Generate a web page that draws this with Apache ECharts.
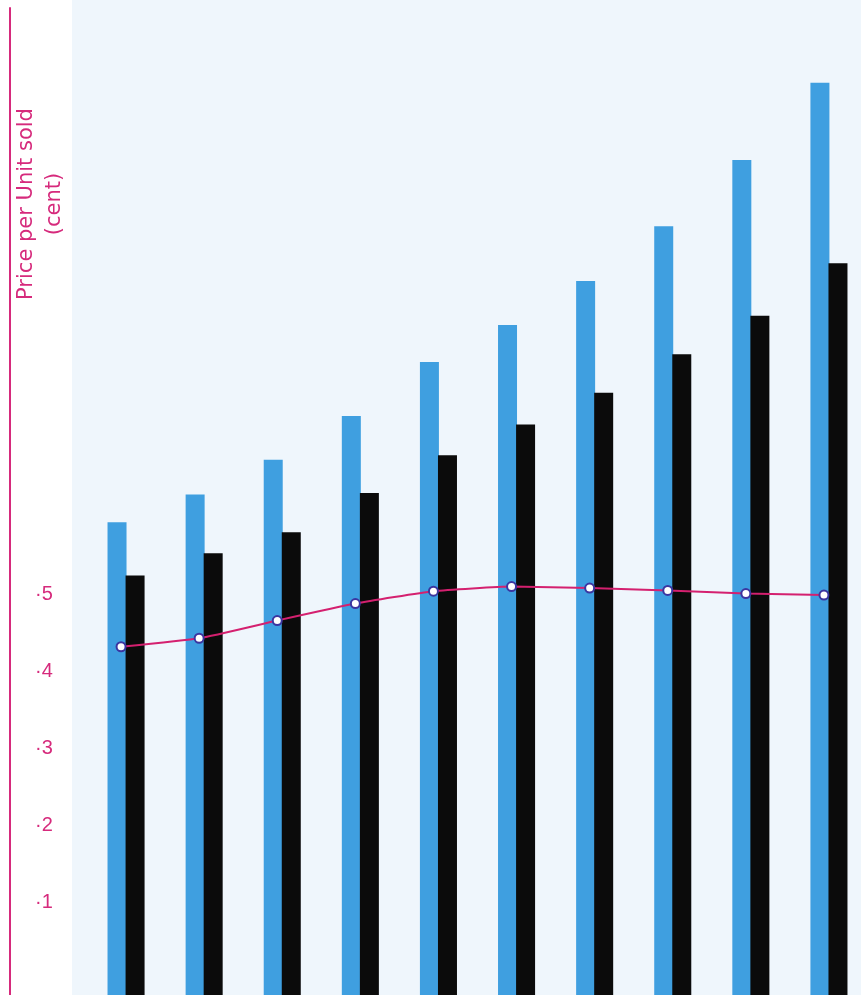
<!DOCTYPE html>
<html>
<head>
<meta charset="utf-8">
<style>
html,body{margin:0;padding:0;background:#ffffff;}
#chart{width:861px;height:995px;}
</style>
<script src="https://cdn.jsdelivr.net/npm/echarts@6/dist/echarts.min.js"></script>
</head>
<body>
<div id="chart"></div>
<script>
// ---- data ----
var categories = ['1','2','3','4','5','6','7','8','9','10'];
// blue bars (unlabelled quantity, relative units)
var blueValues = [0.613, 0.649, 0.694, 0.751, 0.821, 0.869, 0.926, 0.997, 1.083, 1.183];
// black bars (unlabelled quantity, relative units)
var blackValues = [0.544, 0.573, 0.600, 0.651, 0.700, 0.740, 0.781, 0.831, 0.881, 0.949];
// price per unit sold (cent)
var priceValues = [0.432, 0.443, 0.466, 0.488, 0.504, 0.510, 0.508, 0.505, 0.501, 0.499];
var priceTickValues = [0.1, 0.2, 0.3, 0.4, 0.5];
var priceTickLabels = ['·1', '·2', '·3', '·4', '·5'];
var axisTitle = 'Price per Unit sold\n(cent)';

var MAGENTA = '#d62a7c';
var FONT = '"Liberation Sans", Arial, sans-serif';

var chart = echarts.init(document.getElementById('chart'), null, {renderer: 'canvas'});

var option = {
  animation: false,
  backgroundColor: '#ffffff',
  graphic: [
    {type: 'rect', z: -10, silent: true,
     shape: {x: 72, y: 0, width: 789, height: 995},
     style: {fill: '#eff6fc'}},
    {type: 'text', z: 10, silent: true,
     x: 41, y: 204, rotation: Math.PI / 2,
     style: {text: axisTitle, fill: MAGENTA, font: '21px "DejaVu Sans", sans-serif',
             align: 'center', verticalAlign: 'middle', lineHeight: 28}}
  ],
  grid: [
    {left: 87, width: 781, top: 8, height: 987, containLabel: false, outerBoundsMode: 'none'},
    {left: 82, width: 781, top: 8, height: 972, containLabel: false, outerBoundsMode: 'none'}
  ],
  xAxis: [
    {type: 'category', gridIndex: 0, data: categories, show: false, boundaryGap: true},
    {type: 'category', gridIndex: 1, data: categories, show: false, boundaryGap: true}
  ],
  yAxis: [
    {type: 'value', gridIndex: 0, min: 0, max: 1.28, offset: 77,
     axisLine: {show: true, lineStyle: {color: MAGENTA, width: 2}},
     axisTick: {show: false}, axisLabel: {show: false}, splitLine: {show: false}},
    {type: 'value', gridIndex: 1, min: 0, max: 1.26, interval: 0.1, offset: 72,
     axisLine: {show: false}, axisTick: {show: false}, splitLine: {show: false},
     axisLabel: {
       inside: true, margin: 25, color: MAGENTA, fontSize: 20, fontFamily: FONT,
       formatter: function (v) {
         for (var i = 0; i < priceTickValues.length; i++) {
           if (Math.abs(v - priceTickValues[i]) < 1e-6) return priceTickLabels[i];
         }
         return '';
       }
     }}
  ],
  series: [
    {type: 'bar', xAxisIndex: 0, yAxisIndex: 0, data: blueValues,
     barWidth: 19, barGap: '-5%', itemStyle: {color: '#3f9fe0'}, z: 2},
    {type: 'bar', xAxisIndex: 0, yAxisIndex: 0, data: blackValues,
     barWidth: 19, barGap: '-5%', itemStyle: {color: '#0b0b0b'}, z: 3},
    {type: 'line', xAxisIndex: 1, yAxisIndex: 1, data: priceValues,
     smooth: 0.15, symbol: 'emptyCircle', symbolSize: 9,
     lineStyle: {color: '#d4206f', width: 2},
     itemStyle: {color: '#3b35a0', borderColor: '#3b35a0', borderWidth: 2},
     z: 5}
  ]
};
chart.setOption(option);
</script>
</body>
</html>
